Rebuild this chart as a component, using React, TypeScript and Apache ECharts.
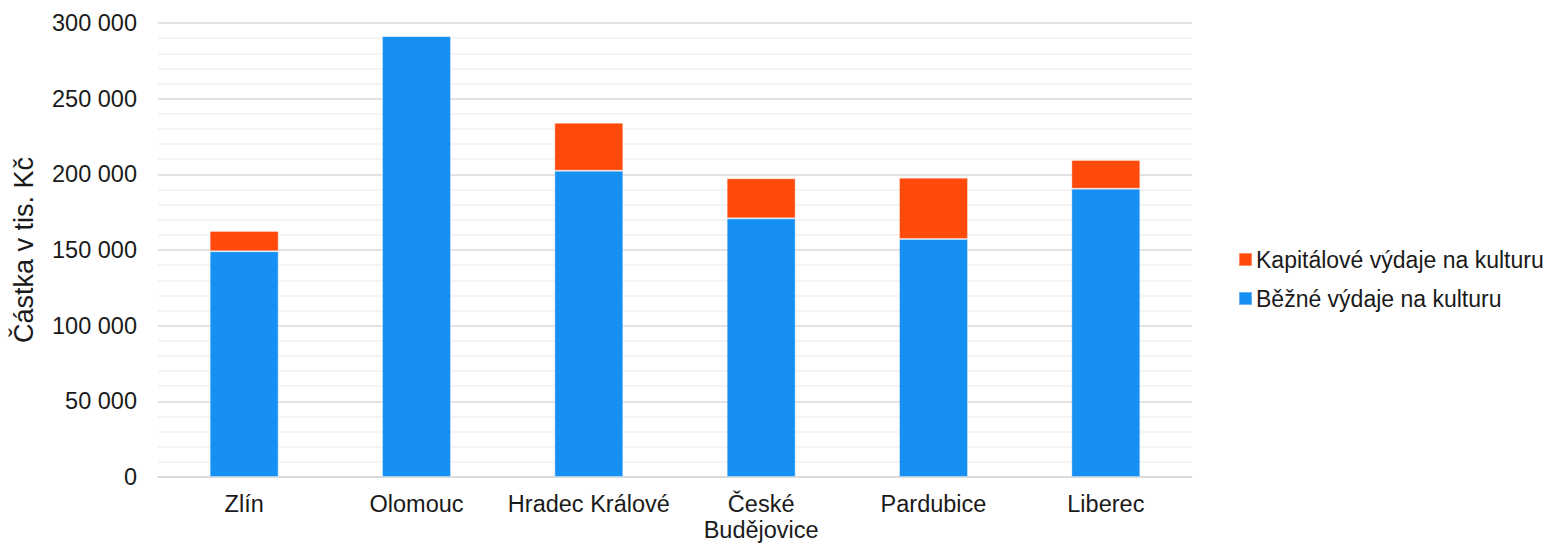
import React, { useEffect, useRef } from "react";
import * as echarts from "echarts";

const categories = ["Zlín", "Olomouc", "Hradec Králové", "České\nBudějovice", "Pardubice", "Liberec"];
const bezne = [149200, 291400, 202400, 170900, 157300, 190500];
const kapitalove = [13400, 0, 31700, 26500, 40500, 19000];
const seriesNames = ["Běžné výdaje na kulturu", "Kapitálové výdaje na kulturu"];
const colors = ["#1790f4", "#ff4a0b"];

function fmt(v: number) {
  return String(v).replace(/\B(?=(\d{3})+(?!\d))/g, " ");
}

export default function App() {
  const ref = useRef<HTMLDivElement>(null);
  useEffect(() => {
    if (!ref.current) return;
    const chart = echarts.init(ref.current, undefined, { renderer: "svg" });
    const font = "Liberation Sans, Arial, sans-serif";
    chart.setOption({
      animation: false,
      textStyle: { fontFamily: font },
      grid: { left: 158, right: 361, top: 23, bottom: 67, containLabel: false },
      legend: {
        orient: "vertical",
        left: 1233,
        top: 243,
        itemWidth: 13,
        itemHeight: 13,
        itemGap: 16,
        icon: "rect",
        data: [seriesNames[1], seriesNames[0]],
        textStyle: { fontSize: 23, color: "#1a1a1a", fontFamily: font, padding: [0, 0, 0, -1] },
      },
      xAxis: {
        type: "category",
        data: categories,
        axisLine: { show: true, lineStyle: { color: "#d9d9d9", width: 1.5 } },
        axisTick: { show: false },
        axisLabel: { fontSize: 23.5, color: "#1a1a1a", margin: 14, lineHeight: 26, fontFamily: font, interval: 0 },
      },
      yAxis: {
        type: "value",
        min: 0,
        max: 300000,
        interval: 50000,
        name: "Částka v tis. Kč",
        nameLocation: "middle",
        nameGap: 121,
        nameTextStyle: { fontSize: 27, color: "#1a1a1a", fontFamily: font },
        axisLine: { show: false },
        axisTick: { show: false },
        axisLabel: { fontSize: 23.5, color: "#1a1a1a", margin: 21, formatter: (v: number) => fmt(v), fontFamily: font },
        splitLine: { show: true, lineStyle: { color: "#d9d9d9", width: 1.5 } },
        minorTick: { show: false, splitNumber: 5 },
        minorSplitLine: { show: true, lineStyle: { color: "#f0f0f0", width: 1.5 } },
      },
      series: [
        {
          name: seriesNames[0],
          type: "bar",
          stack: "total",
          data: bezne,
          barWidth: "40%",
          itemStyle: { color: colors[0], borderColor: "rgba(255,255,255,0.35)", borderWidth: 1 },
        },
        {
          name: seriesNames[1],
          type: "bar",
          stack: "total",
          data: kapitalove,
          barWidth: "40%",
          itemStyle: { color: colors[1], borderColor: "rgba(255,255,255,0.35)", borderWidth: 1 },
        },
      ],
    });
    return () => chart.dispose();
  }, []);
  return <div ref={ref} style={{ width: 1553, height: 544, position: "absolute", left: 0, top: 0 }} />;
}
